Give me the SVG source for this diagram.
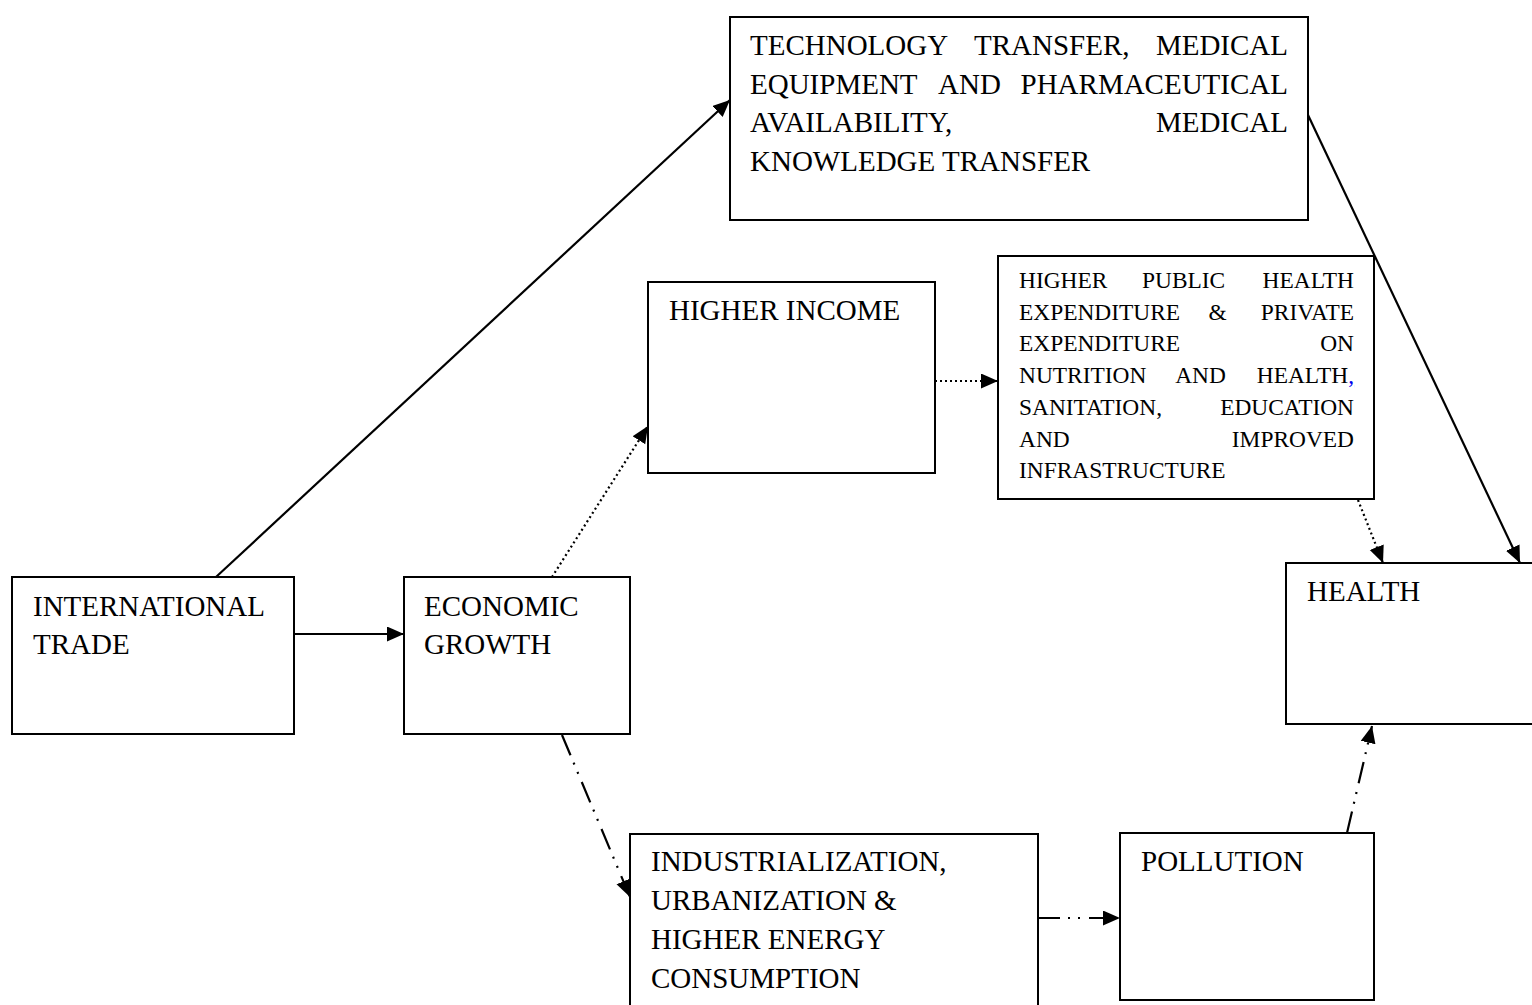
<svg xmlns="http://www.w3.org/2000/svg" width="1532" height="1005" viewBox="0 0 1532 1005">
<style>
.box{fill:#fff;stroke:#000;stroke-width:2}
.t{font-family:"Liberation Serif","Times New Roman",serif;font-size:29px;fill:#000}
.s{font-family:"Liberation Serif","Times New Roman",serif;font-size:23.4px;fill:#000}
.e{text-anchor:end}
.ln{fill:none;stroke:#000;stroke-width:2.2;marker-end:url(#ah)}
.dot{stroke-dasharray:2 3}
.dd{stroke-dasharray:22 8 2 8 2 9}
.link{fill:#0000ee;text-decoration:underline}
</style>
<defs>
<marker id="ah" markerUnits="userSpaceOnUse" markerWidth="20" markerHeight="16" refX="17" refY="7.5" orient="auto">
<path d="M0,0 L17,7.5 L0,15 Z" fill="#000"/>
</marker>
</defs>
<rect width="1532" height="1005" fill="#fff"/>
<g id="node-technology">
<rect class="box" x="730" y="17" width="578" height="203"/>
<text class="t" x="750" y="55">TECHNOLOGY</text>
<text class="t" x="974" y="55">TRANSFER,</text>
<text class="t e" x="1288" y="55">MEDICAL</text>
<text class="t" x="750" y="93.5">EQUIPMENT</text>
<text class="t" x="938" y="93.5">AND</text>
<text class="t e" x="1288" y="93.5">PHARMACEUTICAL</text>
<text class="t" x="750" y="132">AVAILABILITY,</text>
<text class="t e" x="1288" y="132">MEDICAL</text>
<text class="t" x="750" y="171">KNOWLEDGE TRANSFER</text>
</g>
<g id="node-higher-income">
<rect class="box" x="648" y="282" width="287" height="191"/>
<text class="t" x="669" y="320">HIGHER INCOME</text>
</g>
<g id="node-expenditure">
<rect class="box" x="998" y="256" width="376" height="243"/>
<text class="s" x="1019" y="288">HIGHER</text>
<text class="s" x="1142" y="288">PUBLIC</text>
<text class="s e" x="1354" y="288">HEALTH</text>
<text class="s" x="1019" y="319.7">EXPENDITURE</text>
<text class="s" x="1208.6" y="319.7">&amp;</text>
<text class="s e" x="1354" y="319.7">PRIVATE</text>
<text class="s" x="1019" y="351.4">EXPENDITURE</text>
<text class="s e" x="1354" y="351.4">ON</text>
<text class="s" x="1019" y="383">NUTRITION</text>
<text class="s" x="1175.2" y="383">AND</text>
<text class="s e" x="1348.2" y="383">HEALTH</text>
<text class="s link" x="1348.2" y="383">,</text>
<text class="s" x="1019" y="414.8">SANITATION,</text>
<text class="s e" x="1354" y="414.8">EDUCATION</text>
<text class="s" x="1019" y="446.5">AND</text>
<text class="s e" x="1354" y="446.5">IMPROVED</text>
<text class="s" x="1019" y="478">INFRASTRUCTURE</text>
</g>
<g id="node-international-trade">
<rect class="box" x="12" y="577" width="282" height="157"/>
<text class="t" x="33" y="616">INTERNATIONAL</text>
<text class="t" x="33" y="654">TRADE</text>
</g>
<g id="node-economic-growth">
<rect class="box" x="404" y="577" width="226" height="157"/>
<text class="t" x="424" y="616">ECONOMIC</text>
<text class="t" x="424" y="654">GROWTH</text>
</g>
<g id="node-health">
<rect class="box" x="1286" y="563" width="260" height="161"/>
<text class="t" x="1307" y="601">HEALTH</text>
</g>
<g id="node-industrialization">
<rect class="box" x="630" y="834" width="408" height="180"/>
<text class="t" x="651" y="871">INDUSTRIALIZATION,</text>
<text class="t" x="651" y="910">URBANIZATION &amp;</text>
<text class="t" x="651" y="949">HIGHER ENERGY</text>
<text class="t" x="651" y="988">CONSUMPTION</text>
</g>
<g id="node-pollution">
<rect class="box" x="1120" y="833" width="254" height="167"/>
<text class="t" x="1141" y="871">POLLUTION</text>
</g>
<g id="connectors">
<line class="ln" x1="216" y1="577" x2="730" y2="100"/>
<line class="ln" x1="294" y1="634" x2="404" y2="634"/>
<line class="ln dot" x1="552" y1="577" x2="648" y2="426"/>
<line class="ln dot" x1="935" y1="381" x2="998" y2="381"/>
<line class="ln dot" x1="1358" y1="500" x2="1383" y2="563"/>
<line class="ln" x1="1308" y1="115" x2="1520" y2="563"/>
<line class="ln dd" x1="562" y1="735" x2="630" y2="897"/>
<line class="ln dd" x1="1038" y1="918" x2="1120" y2="918"/>
<line class="ln dd" x1="1347" y1="833" x2="1372" y2="726"/>
</g>
</svg>
